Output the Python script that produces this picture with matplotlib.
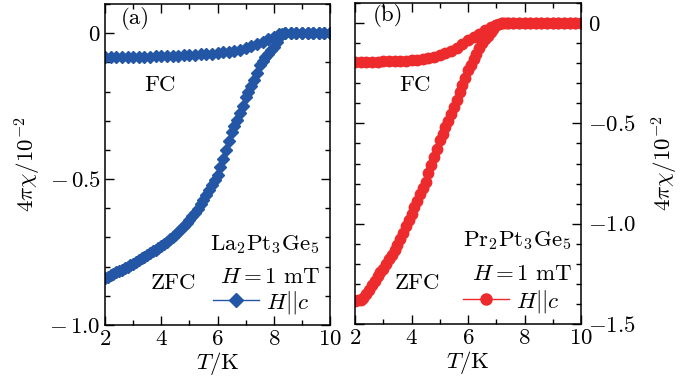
import matplotlib
matplotlib.use('Agg')
import matplotlib.pyplot as plt
from matplotlib.lines import Line2D
from matplotlib.ticker import MultipleLocator

plt.rcParams['font.family'] = ['cmr10']
plt.rcParams['mathtext.fontset'] = 'cm'
plt.rcParams['axes.formatter.use_mathtext'] = True
plt.rcParams['axes.unicode_minus'] = True

# ---- data ----
# (a) La2Pt3Ge5
t_fc_a = [2.0, 2.2, 2.4, 2.6, 2.8, 3.0, 3.2, 3.4, 3.6, 3.8, 4.0, 4.2, 4.4, 4.6, 4.8,
          5.0, 5.2, 5.4, 5.6, 5.8, 6.0, 6.2, 6.4, 6.6, 6.8, 7.0, 7.2, 7.4, 7.6, 7.8,
          8.0, 8.2, 8.4, 8.6, 8.8, 9.0, 9.2, 9.4, 9.6, 9.8, 10.0]
chi_fc_a = [-0.083, -0.083, -0.082, -0.082, -0.082, -0.081, -0.081, -0.080, -0.080, -0.079,
            -0.079, -0.078, -0.078, -0.077, -0.076, -0.075, -0.074, -0.073, -0.072, -0.070,
            -0.068, -0.066, -0.063, -0.060, -0.056, -0.051, -0.045, -0.038, -0.030, -0.021,
            -0.012, -0.004, 0.000, 0.000, 0.000, 0.000, 0.000, 0.000, 0.000, 0.000, 0.000]

t_zfc_a = [2.0, 2.1, 2.2, 2.3, 2.4, 2.5, 2.6, 2.7, 2.8, 2.9, 3.0, 3.1, 3.2, 3.3, 3.4,
           3.5, 3.6, 3.7, 3.8, 3.9, 4.0, 4.1, 4.2, 4.3, 4.4, 4.5, 4.6, 4.7, 4.8, 4.9,
           5.0, 5.1, 5.2, 5.3, 5.4, 5.5, 5.6, 5.7, 5.8, 5.9, 6.0, 6.1, 6.2, 6.3, 6.4,
           6.5, 6.6, 6.7, 6.8, 6.9, 7.0, 7.1, 7.2, 7.3, 7.4, 7.5, 7.6, 7.7, 7.8, 7.9,
           8.0, 8.1, 8.2, 8.3, 8.4, 8.6, 8.8, 9.0, 9.2, 9.4, 9.6, 9.8, 10.0]
chi_zfc_a = [-0.840, -0.835, -0.830, -0.825, -0.820, -0.815, -0.810, -0.805, -0.800, -0.795,
             -0.790, -0.784, -0.778, -0.772, -0.766, -0.760, -0.754, -0.748, -0.742, -0.736,
             -0.730, -0.722, -0.714, -0.706, -0.698, -0.690, -0.681, -0.672, -0.662, -0.651,
             -0.640, -0.628, -0.615, -0.601, -0.586, -0.570, -0.554, -0.537, -0.520, -0.503,
             -0.486, -0.458, -0.430, -0.400, -0.370, -0.340, -0.318, -0.296, -0.275, -0.248,
             -0.220, -0.200, -0.180, -0.160, -0.135, -0.110, -0.097, -0.083, -0.070, -0.058,
             -0.047, -0.030, -0.013, -0.003, 0.000, 0.000, 0.000, 0.000, 0.000, 0.000,
             0.000, 0.000, 0.000]

# (b) Pr2Pt3Ge5
t_fc_b = [2.0, 2.2, 2.4, 2.6, 2.8, 3.0, 3.2, 3.4, 3.6, 3.8, 4.0, 4.2, 4.4, 4.6, 4.8,
          5.0, 5.2, 5.4, 5.6, 5.8, 6.0, 6.2, 6.4, 6.6, 6.8, 7.0, 7.2, 7.4, 7.6, 7.8,
          8.0, 8.2, 8.4, 8.6, 8.8, 9.0, 9.2, 9.4, 9.6, 9.8, 10.0]
chi_fc_b = [-0.194, -0.193, -0.193, -0.192, -0.192, -0.191, -0.190, -0.189, -0.188, -0.187,
            -0.186, -0.183, -0.180, -0.175, -0.168, -0.160, -0.150, -0.138, -0.122, -0.105,
            -0.086, -0.069, -0.053, -0.037, -0.022, -0.009, -0.002, 0.000, 0.000, 0.000,
            0.000, 0.000, 0.000, 0.000, 0.000, 0.000, 0.000, 0.000, 0.000, 0.000, 0.000]

t_zfc_b = [2.0, 2.1, 2.2, 2.3, 2.4, 2.5, 2.6, 2.7, 2.8, 2.9, 3.0, 3.1, 3.2, 3.3, 3.4,
           3.5, 3.6, 3.7, 3.8, 3.9, 4.0, 4.1, 4.2, 4.3, 4.4, 4.5, 4.6, 4.7, 4.8, 4.9,
           5.0, 5.1, 5.2, 5.3, 5.4, 5.5, 5.6, 5.7, 5.8, 5.9, 6.0, 6.1, 6.2, 6.3, 6.4,
           6.5, 6.6, 6.7, 6.8, 6.9, 7.0, 7.1, 7.2, 7.3, 7.4, 7.6, 7.8, 8.0, 8.2, 8.4,
           8.6, 8.8, 9.0, 9.2, 9.4, 9.6, 9.8, 10.0]
chi_zfc_b = [-1.385, -1.382, -1.378, -1.370, -1.352, -1.330, -1.308, -1.285, -1.262, -1.243,
             -1.224, -1.201, -1.178, -1.155, -1.132, -1.108, -1.076, -1.044, -1.012, -0.980,
             -0.950, -0.918, -0.886, -0.854, -0.822, -0.790, -0.749, -0.708, -0.667, -0.626,
             -0.585, -0.552, -0.519, -0.486, -0.453, -0.420, -0.383, -0.346, -0.309, -0.272,
             -0.236, -0.208, -0.180, -0.152, -0.126, -0.100, -0.081, -0.063, -0.045, -0.028,
             -0.012, -0.005, -0.001, 0.000, 0.000, 0.000, 0.000, 0.000, 0.000, 0.000,
             0.000, 0.000, 0.000, 0.000, 0.000, 0.000, 0.000, 0.000]

x_ticks = [2, 4, 6, 8, 10]
x_ticklabels = ['$2$', '$4$', '$6$', '$8$', '$10$']
y_ticks_a = [-1.0, -0.5, 0.0]
y_ticklabels_a = ['$-\\,1.0$', '$-\\,0.5$', '$0$']
y_ticks_b = [-1.5, -1.0, -0.5, 0.0]
y_ticklabels_b = ['$-1.5$', '$-1.0$', '$-0.5$', '$0$']

blue = '#2456a6'
red = '#ee2b2c'
fs = 16.5

fig = plt.figure(figsize=(6.92, 3.83), dpi=100)
ax_a = fig.add_axes([105 / 692, 1 - 325 / 383, 225 / 692, 321 / 383])
ax_b = fig.add_axes([355 / 692, 1 - 324 / 383, 226 / 692, 321 / 383])


def style_axis(ax):
    ax.set_xlim(2, 10)
    ax.set_xticks(x_ticks)
    ax.set_xticklabels(x_ticklabels)
    ax.xaxis.set_minor_locator(MultipleLocator(1))
    ax.yaxis.set_minor_locator(MultipleLocator(0.1))
    ax.tick_params(which='both', direction='in', top=True, right=True,
                   labelsize=fs, width=1.0, pad=3)
    ax.tick_params(which='major', length=6.5)
    ax.tick_params(which='minor', length=3.5)
    for sp in ax.spines.values():
        sp.set_linewidth(1.1)
    ax.set_xlabel('$T/\\mathrm{K}$', fontsize=fs, labelpad=1)


# panel (a)
ax_a.plot(t_fc_a, chi_fc_a, 'D', color=blue, ms=6.5, mec=blue)
ax_a.plot(t_zfc_a, chi_zfc_a, 'D', color=blue, ms=6.5, mec=blue)
style_axis(ax_a)
ax_a.set_ylim(-1.0, 0.1)
ax_a.set_yticks(y_ticks_a)
ax_a.set_yticklabels(y_ticklabels_a)
ax_a.set_ylabel('$4\\pi\\chi/10^{-2}$', fontsize=fs)
ax_a.yaxis.set_label_coords(-0.275, 0.5)
ax_a.text(0.07, 0.955, '(a)', transform=ax_a.transAxes, fontsize=fs, va='center')
ax_a.text(3.95, -0.18, 'FC', fontsize=fs, ha='center', va='center')
ax_a.text(4.42, -0.856, 'ZFC', fontsize=fs, ha='center', va='center')
ax_a.text(0.955, 0.25, '$\\mathrm{La_2Pt_3Ge_5}$', transform=ax_a.transAxes,
          fontsize=fs, ha='right', va='center')
ax_a.text(0.955, 0.15, '$H=1\\ \\mathrm{mT}$', transform=ax_a.transAxes,
          fontsize=fs, ha='right', va='center')
h_a = Line2D([], [], color=blue, lw=1.0, marker='D', ms=7, mec=blue)
ax_a.legend([h_a], ['$H||c$'], loc='lower right', frameon=False, fontsize=fs,
            handlelength=2.0, handletextpad=0.3, borderaxespad=0.0,
            bbox_to_anchor=(0.95, 0.0))

# panel (b)
ax_b.plot(t_fc_b, chi_fc_b, 'o', color=red, ms=7.5, mec=red)
ax_b.plot(t_zfc_b, chi_zfc_b, 'o', color=red, ms=7.5, mec=red)
style_axis(ax_b)
ax_b.set_ylim(-1.5, 0.1)
ax_b.set_yticks(y_ticks_b)
ax_b.set_yticklabels(y_ticklabels_b)
ax_b.yaxis.set_label_position('right')
ax_b.yaxis.tick_right()
ax_b.tick_params(which='both', left=True, right=True, labelleft=False, labelright=True)
ax_b.tick_params(axis='y', pad=5)
ax_b.set_ylabel('$4\\pi\\chi/10^{-2}$', fontsize=fs)
ax_b.yaxis.set_label_coords(1.305, 0.5)
ax_b.text(0.08, 0.96, '(b)', transform=ax_b.transAxes, fontsize=fs, va='center')
ax_b.text(4.12, -0.31, 'FC', fontsize=fs, ha='center', va='center')
ax_b.text(4.2, -1.295, 'ZFC', fontsize=fs, ha='center', va='center')
ax_b.text(0.96, 0.26, '$\\mathrm{Pr_2Pt_3Ge_5}$', transform=ax_b.transAxes,
          fontsize=fs, ha='right', va='center')
ax_b.text(0.96, 0.155, '$H=1\\ \\mathrm{mT}$', transform=ax_b.transAxes,
          fontsize=fs, ha='right', va='center')
h_b = Line2D([], [], color=red, lw=1.0, marker='o', ms=8, mec=red)
ax_b.legend([h_b], ['$H||c$'], loc='lower right', frameon=False, fontsize=fs,
            handlelength=2.0, handletextpad=0.3, borderaxespad=0.0,
            bbox_to_anchor=(0.945, 0.0))

fig.savefig('out.png', dpi=100)
